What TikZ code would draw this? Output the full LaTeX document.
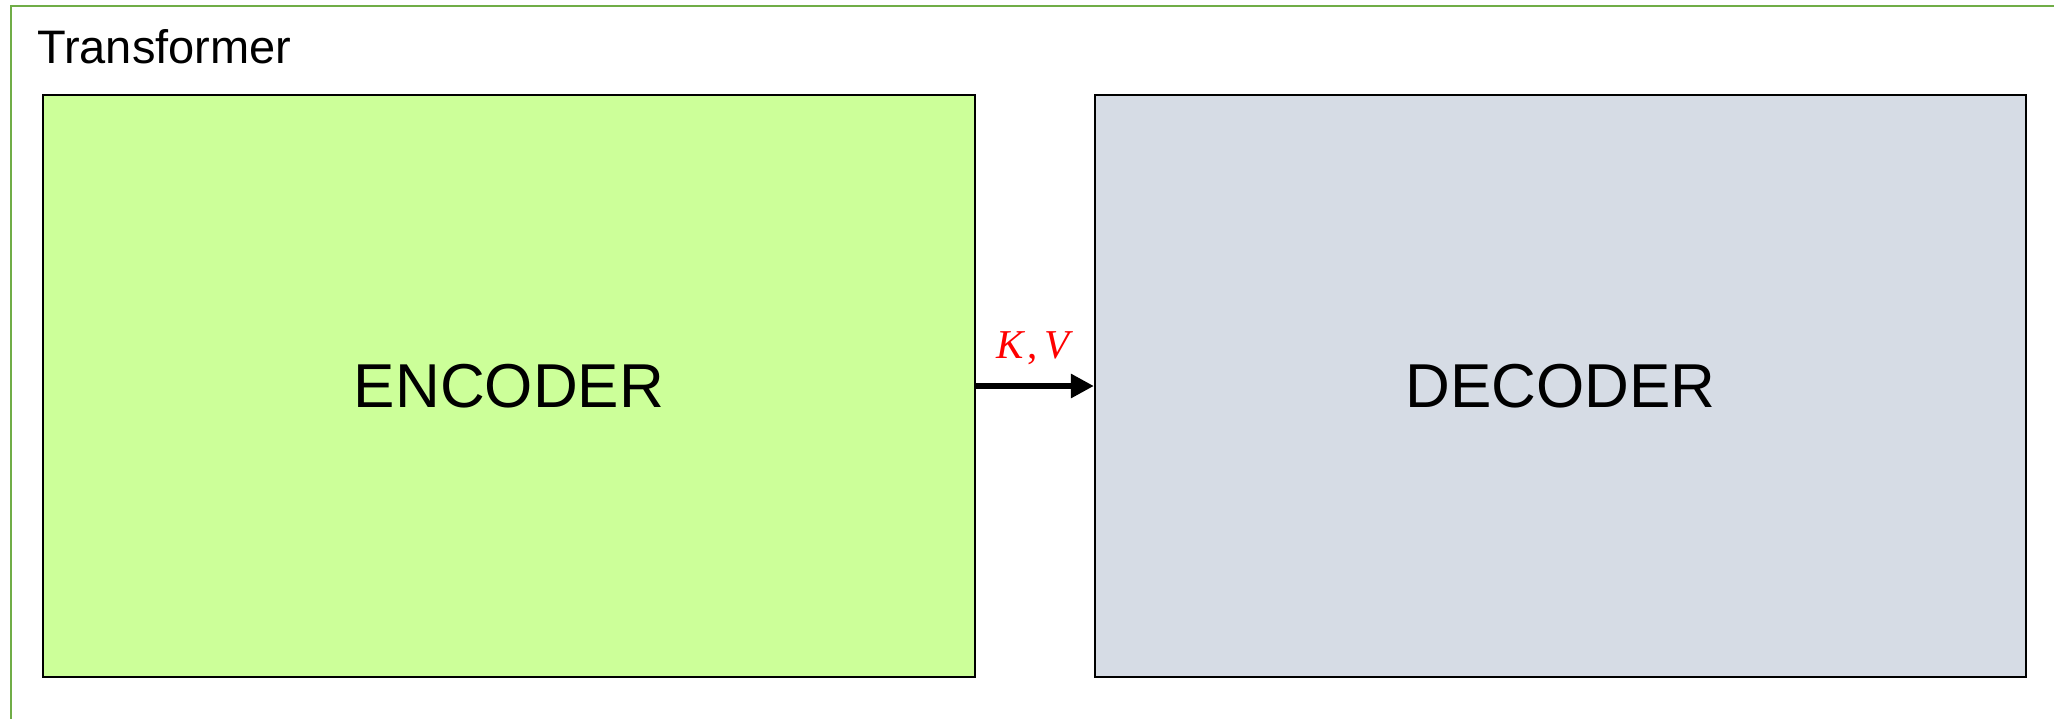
\documentclass[tikz,border=0pt]{standalone}
\usepackage{fontspec}
\setmainfont{Liberation Sans}
\newfontfamily\kvfont{Liberation Serif}
\usetikzlibrary{arrows.meta}
\definecolor{framegreen}{HTML}{70AD47}
\definecolor{encfill}{HTML}{CCFF99}
\definecolor{decfill}{HTML}{D6DCE5}
\tikzset{
  block/.style={draw=black, line width=2.2pt, inner sep=0pt, font=\fontsize{62}{70}\selectfont},
  flow/.style={line width=6pt, -{Triangle[length=23pt,width=23pt]}},
}
\begin{document}
\begin{tikzpicture}[x=1pt,y=-1pt]
\useasboundingbox (0,0) rectangle (2054,718);
\clip (0,0) rectangle (2054,718);
\fill[white] (0,0) rectangle (2054,718);
\draw[framegreen, line width=2pt] (11,6) rectangle (2080,740);
\node[anchor=base west, inner sep=0pt, font=\fontsize{47}{52}\selectfont] (title) at (37,63) {Transformer};
\node[block, fill=encfill, minimum width=932pt, minimum height=582pt] (enc) at (509,386) {ENCODER};
\node[block, fill=decfill, minimum width=931pt, minimum height=582pt] (dec) at (1560.5,386) {DECODER};
\draw[flow] (enc.east) -- (dec.west) node[midway, above=18pt, inner sep=0pt, text=red, font=\kvfont\fontsize{41}{46}\selectfont] (kv) {\textit{K}\kern2pt,\kern7pt\textit{V}};
\end{tikzpicture}
\end{document}
